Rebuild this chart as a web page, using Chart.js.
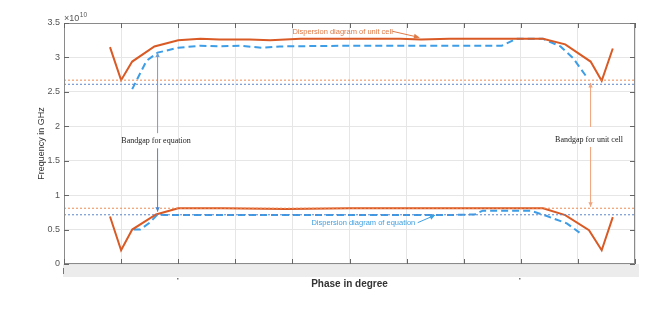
<!DOCTYPE html>
<html lang="en">
<head>
<meta charset="UTF-8">
<title>Dispersion diagram</title>
<script src="https://cdn.jsdelivr.net/npm/chart.js"></script>
<style>
  html, body { margin: 0; padding: 0; background: #fff; }
</style>
</head>
<body>
<canvas id="dispChart" width="657" height="310"></canvas>
<script>
// phase in degree (x) and frequency in units of 1e10 Hz (y)
const cellUpperX = [-151, -144, -137, -123, -108, -94, -82, -63, -50, -31, 0, 32, 45, 63, 95, 122, 136, 152, 159, 166];
const cellUpperY = [3.15, 2.67, 2.94, 3.16, 3.25, 3.27, 3.26, 3.26, 3.25, 3.27, 3.27, 3.27, 3.26, 3.27, 3.27, 3.27, 3.19, 2.94, 2.66, 3.13];

const cellLowerX = [-151, -144, -137, -122, -108, -80, -40, 0, 40, 80, 122, 136, 151, 159, 166];
const cellLowerY = [0.69, 0.20, 0.50, 0.72, 0.81, 0.81, 0.80, 0.81, 0.81, 0.81, 0.81, 0.71, 0.49, 0.20, 0.68];

const eqUpperX = [-137, -128, -121, -108, -94, -82, -69, -55, -44, 0, 45, 76, 96, 105, 122, 133, 141, 150];
const eqUpperY = [2.54, 2.95, 3.07, 3.14, 3.17, 3.16, 3.17, 3.14, 3.16, 3.17, 3.17, 3.17, 3.17, 3.27, 3.27, 3.16, 2.99, 2.70];

const eqLowerX = [-136, -132, -126, -121, -117, -60, 0, 60, 79, 84, 114, 124, 137, 145];
const eqLowerY = [0.50, 0.50, 0.60, 0.72, 0.71, 0.71, 0.71, 0.71, 0.72, 0.775, 0.775, 0.70, 0.59, 0.455];

// bandgap edges (dotted reference lines)
const gapCell = [2.67, 0.81];
const gapEq = [2.61, 0.715];

const yTickLabels = ['0', '0.5', '1', '1.5', '2', '2.5', '3', '3.5'];

const ORANGE = '#d95a25';
const BLUE = '#3d9de6';

const pts = (xs, ys) => xs.map((x, i) => ({ x, y: ys[i] }));
const hline = v => [{ x: -180, y: v }, { x: 180, y: v }];

const curve = (data, color, dash) => ({
  data, borderColor: color, borderWidth: 2, borderDash: dash || [],
  showLine: true, pointRadius: 0, tension: 0, fill: false
});
const dotted = (v, color) => ({
  data: hline(v), borderColor: color, borderWidth: 1, borderDash: [2, 2],
  showLine: true, pointRadius: 0, fill: false
});

// annotation text + arrows, placed in data coordinates
const notes = [
  { text: 'Dispersion diagram of unit cell', x: -36, y: 3.37, color: '#e07a45', font: '7.5px "Liberation Sans", Arial', align: 'left',
    arrow: { from: [27, 3.38], to: [44, 3.29] } },
  { text: 'Dispersion diagram of equation', x: -24, y: 0.59, color: '#3fa0e0', font: '7.5px "Liberation Sans", Arial', align: 'left',
    arrow: { from: [43, 0.60], to: [54, 0.71] } },
  { text: 'Bandgap for equation', x: -122, y: 1.79, color: '#222', font: '8px "Liberation Serif", serif', align: 'center' },
  { text: 'Bandgap for unit cell', x: 151, y: 1.80, color: '#222', font: '8px "Liberation Serif", serif', align: 'center' }
];
const gapArrows = [
  { x: -121, from: 1.90, to: 3.07, color: '#6f9fd0' },
  { x: -121, from: 1.68, to: 0.76, color: '#4a86d0' },
  { x: 152, from: 1.99, to: 2.63, color: '#f0a27a' },
  { x: 152, from: 1.70, to: 0.83, color: '#f0a27a' }
];

function arrow(ctx, x1, y1, x2, y2, color, head) {
  const a = Math.atan2(y2 - y1, x2 - x1);
  ctx.strokeStyle = color; ctx.fillStyle = color; ctx.lineWidth = 1;
  ctx.beginPath(); ctx.moveTo(x1, y1); ctx.lineTo(x2, y2); ctx.stroke();
  ctx.beginPath();
  ctx.moveTo(x2, y2);
  ctx.lineTo(x2 - head * Math.cos(a - 0.45), y2 - head * Math.sin(a - 0.45));
  ctx.lineTo(x2 - head * Math.cos(a + 0.45), y2 - head * Math.sin(a + 0.45));
  ctx.closePath(); ctx.fill();
}

const figPlugin = {
  id: 'fig',
  beforeDraw(chart) {
    const { ctx, chartArea: a, scales: { x } } = chart;
    ctx.save();
    // grey strip under the axis (cropped tick label row in the source)
    ctx.fillStyle = '#ececec';
    ctx.fillRect(a.left - 1, a.bottom, a.right - a.left + 5, 13);
    // leftover specks of the cut-off tick labels
    ctx.fillStyle = '#777';
    ctx.fillRect(a.left - 1, a.bottom + 4, 1, 6);
    [-109, 107].forEach(v => ctx.fillRect(Math.round(x.getPixelForValue(v)), a.bottom + 14, 1.5, 1.5));
    ctx.restore();
  },
  afterDatasetsDraw(chart) {
    const { ctx, chartArea: a, scales: { x, y } } = chart;
    ctx.save();
    // box + inward ticks
    ctx.strokeStyle = '#8a8a8a'; ctx.lineWidth = 1;
    ctx.strokeRect(a.left + 0.5, a.top + 0.5, a.right - a.left - 1, a.bottom - a.top - 1);
    ctx.strokeStyle = '#666';
    ctx.beginPath();
    x.ticks.forEach(t => {
      const px = Math.round(x.getPixelForValue(t.value)) + 0.5;
      ctx.moveTo(px, a.top); ctx.lineTo(px, a.top + 5);
      ctx.moveTo(px, a.bottom); ctx.lineTo(px, a.bottom - 5);
    });
    y.ticks.forEach(t => {
      const py = Math.round(y.getPixelForValue(t.value)) + 0.5;
      ctx.moveTo(a.left, py); ctx.lineTo(a.left + 5, py);
      ctx.moveTo(a.right, py); ctx.lineTo(a.right - 5, py);
    });
    ctx.stroke();

    // exponent label
    ctx.fillStyle = '#555';
    ctx.textBaseline = 'alphabetic'; ctx.textAlign = 'left';
    ctx.font = '9px "Liberation Sans", Arial';
    ctx.fillText('\u00d710', a.left, a.top - 2);
    const w = ctx.measureText('\u00d710').width;
    ctx.font = '6.5px "Liberation Sans", Arial';
    ctx.fillText('10', a.left + w + 0.5, a.top - 6);

    // annotations
    notes.forEach(n => {
      ctx.font = n.font; ctx.fillStyle = n.color;
      ctx.textAlign = n.align; ctx.textBaseline = 'middle';
      ctx.fillText(n.text, x.getPixelForValue(n.x), y.getPixelForValue(n.y));
      if (n.arrow) {
        arrow(ctx, x.getPixelForValue(n.arrow.from[0]), y.getPixelForValue(n.arrow.from[1]),
          x.getPixelForValue(n.arrow.to[0]), y.getPixelForValue(n.arrow.to[1]), n.color, 6);
      }
    });
    gapArrows.forEach(g => {
      const px = x.getPixelForValue(g.x);
      arrow(ctx, px, y.getPixelForValue(g.from), px, y.getPixelForValue(g.to), g.color, 5);
    });
    ctx.restore();
  }
};

new Chart(document.getElementById('dispChart'), {
  type: 'scatter',
  data: {
    datasets: [
      dotted(gapCell[0], '#ee8a50'),
      dotted(gapCell[1], '#ee8a50'),
      dotted(gapEq[0], '#5b86cc'),
      dotted(gapEq[1], '#5b86cc'),
      curve(pts(cellUpperX, cellUpperY), ORANGE),
      curve(pts(cellLowerX, cellLowerY), ORANGE),
      curve(pts(eqUpperX, eqUpperY), BLUE, [7, 4]),
      curve(pts(eqLowerX, eqLowerY), BLUE, [7, 4])
    ]
  },
  options: {
    responsive: false,
    animation: false,
    devicePixelRatio: 1,
    layout: { padding: { top: 23, right: 22, left: 0, bottom: 0 } },
    plugins: { legend: { display: false }, tooltip: { enabled: false } },
    scales: {
      x: {
        type: 'linear', min: -180, max: 180,
        ticks: { display: false, stepSize: 36 },
        grid: { color: '#e6e6e6', drawTicks: false },
        border: { display: false },
        title: { display: true, text: 'Phase in degree', color: '#333',
          font: { family: '"Liberation Sans", Arial', size: 10, weight: 'bold' }, padding: { top: 0, bottom: 20 } },
        afterFit: s => { s.height = 46; }
      },
      y: {
        min: 0, max: 3.5,
        ticks: { stepSize: 0.5, padding: 4, color: '#555',
          font: { family: '"Liberation Sans", Arial', size: 9 },
          callback: (v, i) => yTickLabels[i] },
        grid: { color: '#e6e6e6', drawTicks: false },
        border: { display: false },
        title: { display: true, text: 'Frequency in GHz', color: '#333',
          font: { family: '"Liberation Sans", Arial', size: 9 }, padding: { top: 36, bottom: 0 } },
        afterFit: s => { s.width = 64; }
      }
    }
  },
  plugins: [figPlugin]
});
</script>
</body>
</html>
